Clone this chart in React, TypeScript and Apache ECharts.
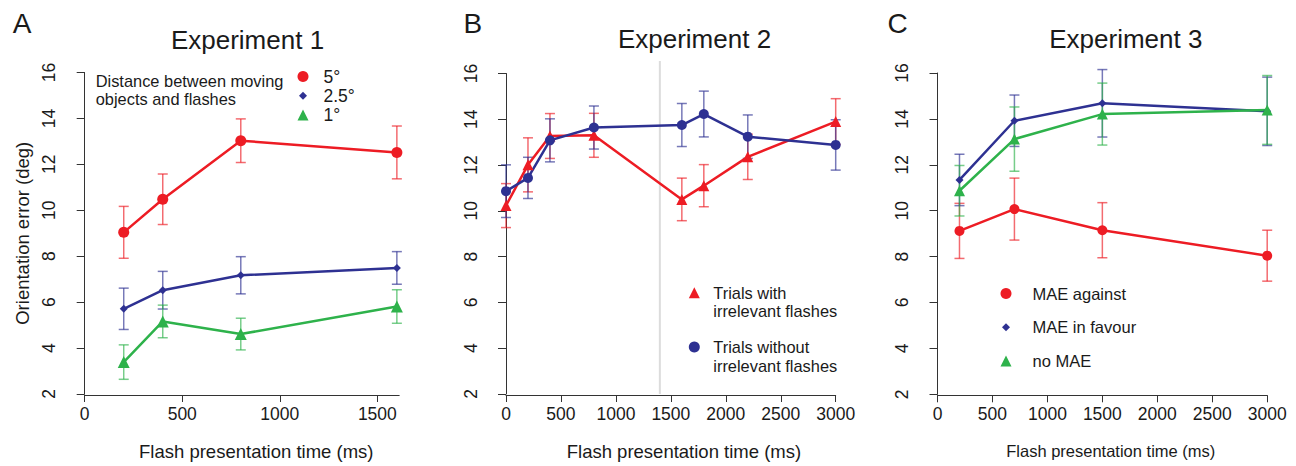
import React, { useEffect, useRef } from "react";
import * as echarts from "echarts";

const FONT = '"Liberation Sans", Arial, Helvetica, sans-serif';
const INK = "#1a1a1a";
const AXIS = "#333333";
const RED = "#ED1C24";
const BLUE = "#2E3192";
const GREEN = "#2EB24B";
const DIVIDER = "#dcdcdc";

// Experiment 1
const exp1Times = [200, 400, 800, 1600];
const exp1Dist5Mean = [9.04, 10.48, 13.03, 12.52];
const exp1Dist5Se = [1.13, 1.1, 0.95, 1.15];
const exp1Dist25Mean = [5.71, 6.52, 7.17, 7.49];
const exp1Dist25Se = [0.9, 0.82, 0.81, 0.71];
const exp1Dist1Mean = [3.39, 5.16, 4.61, 5.81];
const exp1Dist1Se = [0.75, 0.71, 0.69, 0.73];

// Experiment 2
const exp2Times = [0, 200, 400, 800, 1600, 1800, 2200, 3000];
const exp2WithMean = [10.23, 12.01, 13.27, 13.3, 10.5, 11.1, 12.36, 13.9];
const exp2WithSe = [0.96, 1.18, 0.98, 0.96, 0.93, 0.92, 0.99, 1.0];
const exp2WithoutMean = [10.86, 11.44, 13.08, 13.64, 13.75, 14.23, 13.24, 12.88];
const exp2WithoutSe = [1.15, 0.9, 0.94, 0.94, 0.94, 1.0, 0.95, 1.1];
const exp2Divider = 1400;
const exp2DividerRange = [2, 16.55];

// Experiment 3
const exp3Times = [200, 700, 1500, 3000];
const exp3AgainstMean = [9.12, 10.07, 9.15, 8.04];
const exp3AgainstSe = [1.2, 1.35, 1.2, 1.11];
const exp3FavourMean = [11.34, 13.92, 14.68, 14.33];
const exp3FavourSe = [1.12, 1.12, 1.47, 1.49];
const exp3NoneMean = [10.87, 13.12, 14.21, 14.39];
const exp3NoneSe = [1.1, 1.4, 1.35, 1.5];

// Axes
const yTicks = [2, 4, 6, 8, 10, 12, 14, 16];
const exp1XTicks = [0, 500, 1000, 1500];
const exp23XTicks = [0, 500, 1000, 1500, 2000, 2500, 3000];

const diamondIcon = "path://M0,0M11,11M5.5,1.5L9.5,5.5L5.5,9.5L1.5,5.5Z";

function alpha(hex: string, a: number) {
  const n = parseInt(hex.slice(1), 16);
  return `rgba(${(n >> 16) & 255},${(n >> 8) & 255},${n & 255},${a})`;
}

function errorBars(name: string, gi: number, xs: number[], m: number[], se: number[], color: string) {
  return {
    type: "custom",
    name,
    xAxisIndex: gi,
    yAxisIndex: gi,
    z: 2,
    silent: true,
    data: xs.map((x, i) => [x, m[i] - se[i], m[i] + se[i]]),
    renderItem: (_p: any, api: any) => {
      const x = api.value(0);
      const lo = api.coord([x, api.value(1)]);
      const hi = api.coord([x, api.value(2)]);
      const cap = 5;
      const style = { stroke: alpha(color, 0.65), lineWidth: 1.5, fill: "none" };
      return {
        type: "group",
        children: [
          { type: "line", shape: { x1: lo[0], y1: lo[1], x2: hi[0], y2: hi[1] }, style },
          { type: "line", shape: { x1: lo[0] - cap, y1: lo[1], x2: lo[0] + cap, y2: lo[1] }, style },
          { type: "line", shape: { x1: hi[0] - cap, y1: hi[1], x2: hi[0] + cap, y2: hi[1] }, style },
        ],
      };
    },
  };
}

function line(name: string, gi: number, xs: number[], m: number[], color: string, symbol: string, size: number) {
  return {
    type: "line",
    name,
    xAxisIndex: gi,
    yAxisIndex: gi,
    z: 3,
    data: xs.map((x, i) => [x, m[i]]),
    symbol,
    symbolSize: size,
    showSymbol: true,
    itemStyle: { color },
    lineStyle: { color, width: 2.5 },
    emphasis: { disabled: true },
  };
}

const plain = (v: number) => String(v);

function xAxis(gi: number, max: number, ticks: number[], shift: number, nameSize: number) {
  return {
    type: "value",
    gridIndex: gi,
    min: 0,
    max,
    offset: 1,
    axisLine: { show: true, lineStyle: { color: AXIS, width: 1 } },
    axisTick: { show: true, length: 7, customValues: ticks, lineStyle: { color: AXIS, width: 1 } },
    axisLabel: { customValues: ticks, formatter: plain, fontSize: 17.5, color: INK, fontFamily: FONT, margin: 10 },
    splitLine: { show: false },
    name: "Flash presentation time (ms)",
    nameLocation: "middle",
    nameGap: 47,
    nameTextStyle: { fontSize: nameSize, color: INK, fontFamily: FONT, padding: [0, 0, 0, shift * 2] },
  };
}

function yAxis(gi: number, withName: boolean) {
  const ax: any = {
    type: "value",
    gridIndex: gi,
    min: 2,
    max: 16,
    interval: 2,
    offset: 14.5,
    axisLine: { show: true, lineStyle: { color: AXIS, width: 1 } },
    axisTick: { show: true, length: 8, customValues: yTicks, lineStyle: { color: AXIS, width: 1 } },
    axisLabel: { customValues: yTicks, formatter: plain, rotate: 90, fontSize: 17.5, color: INK, fontFamily: FONT, margin: 12 },
    splitLine: { show: false },
  };
  if (withName) {
    ax.name = "Orientation error (deg)";
    ax.nameLocation = "middle";
    ax.nameGap = 38;
    ax.nameTextStyle = { fontSize: 18.5, color: INK, fontFamily: FONT };
  }
  return ax;
}

function label(text: string, x: number, y: number, size: number) {
  return {
    type: "text",
    x,
    y,
    silent: true,
    style: { text, fill: INK, fontSize: size, fontFamily: FONT, align: "center", verticalAlign: "middle" },
  };
}

export default function App() {
  const ref = useRef<HTMLDivElement>(null);
  useEffect(() => {
    document.body.style.margin = "0";
    if (!ref.current) return;
    const chart = echarts.init(ref.current, undefined, { renderer: "svg" });
    const legendText = (size: number, padLeft: number, padTop: number, lh: number) => ({
      fontSize: size,
      color: INK,
      fontFamily: FONT,
      lineHeight: lh,
      padding: [padTop, 0, 0, padLeft],
    });
    const option: any = {
      animation: false,
      backgroundColor: "#ffffff",
      textStyle: { fontFamily: FONT },
      grid: [
        { left: 84.7, top: 72.5, width: 314.5, height: 321.8 },
        { left: 506, top: 73.5, width: 329.7, height: 321.3 },
        { left: 937.5, top: 73, width: 329.7, height: 321.3 },
      ],
      xAxis: [
        xAxis(0, 1612, exp1XTicks, 14.3, 18.5),
        xAxis(1, 3000, exp23XTicks, 13.1, 18.5),
        xAxis(2, 3000, exp23XTicks, 8.4, 16.5),
      ],
      yAxis: [yAxis(0, true), yAxis(1, false), yAxis(2, false)],
      legend: [
        {
          orient: "vertical",
          left: 297.5,
          top: 67.5,
          padding: 0,
          itemWidth: 11,
          itemHeight: 11,
          itemGap: 1.2,
          selectedMode: false,
          textStyle: legendText(17.5, 10, 0, 11),
          data: [
            { name: "5°", icon: "circle" },
            { name: "2.5°", icon: diamondIcon },
            { name: "1°", icon: "triangle" },
          ],
        },
        {
          orient: "vertical",
          left: 688.8,
          top: 264.95,
          padding: 0,
          itemWidth: 11,
          itemHeight: 11,
          selectedMode: false,
          formatter: () => "\nTrials with\nirrelevant flashes",
          textStyle: legendText(16.4, 8.5, 0, 18.5),
          data: [{ name: "Trials with irrelevant flashes", icon: "triangle" }],
        },
        {
          orient: "vertical",
          left: 688.8,
          top: 319.25,
          padding: 0,
          itemWidth: 11,
          itemHeight: 11,
          selectedMode: false,
          formatter: () => "\nTrials without\nirrelevant flashes",
          textStyle: legendText(16.4, 8.5, 0, 18.5),
          data: [{ name: "Trials without irrelevant flashes", icon: "circle" }],
        },
        {
          orient: "vertical",
          left: 1000.5,
          top: 285,
          padding: 0,
          itemWidth: 11,
          itemHeight: 11,
          itemGap: 16.8,
          selectedMode: false,
          textStyle: legendText(16.5, 16, 6, 5),
          data: [
            { name: "MAE against", icon: "circle" },
            { name: "MAE in favour", icon: diamondIcon },
            { name: "no MAE", icon: "triangle" },
          ],
        },
      ],
      graphic: [
        label("A", 22, 23.5, 28),
        label("B", 472.8, 23, 28),
        label("C", 897.5, 23, 28),
        label("Experiment 1", 247.5, 39.5, 26),
        label("Experiment 2", 694.5, 38.5, 26),
        label("Experiment 3", 1125.8, 38.5, 26),
        {
          type: "text",
          left: 95.7,
          top: 71.7,
          silent: true,
          style: {
            text: "Distance between moving\nobjects and flashes",
            fill: INK,
            fontSize: 16.4,
            fontFamily: FONT,
            lineHeight: 18,
          },
        },
      ],
      series: [
        // divider in experiment 2
        {
          type: "custom",
          name: "divider",
          xAxisIndex: 1,
          yAxisIndex: 1,
          z: 1,
          silent: true,
          data: [[exp2Divider, exp2DividerRange[0], exp2DividerRange[1]]],
          renderItem: (_p: any, api: any) => {
            const a = api.coord([api.value(0), api.value(1)]);
            const b = api.coord([api.value(0), api.value(2)]);
            return {
              type: "line",
              shape: { x1: a[0], y1: a[1], x2: b[0], y2: b[1] },
              style: { stroke: DIVIDER, lineWidth: 2 },
            };
          },
        },
        errorBars("e1a", 0, exp1Times, exp1Dist5Mean, exp1Dist5Se, RED),
        errorBars("e1b", 0, exp1Times, exp1Dist25Mean, exp1Dist25Se, BLUE),
        errorBars("e1c", 0, exp1Times, exp1Dist1Mean, exp1Dist1Se, GREEN),
        line("5°", 0, exp1Times, exp1Dist5Mean, RED, "circle", 11),
        line("2.5°", 0, exp1Times, exp1Dist25Mean, BLUE, "diamond", 8),
        line("1°", 0, exp1Times, exp1Dist1Mean, GREEN, "triangle", 12),
        errorBars("e2a", 1, exp2Times, exp2WithMean, exp2WithSe, RED),
        errorBars("e2b", 1, exp2Times, exp2WithoutMean, exp2WithoutSe, BLUE),
        line("Trials with irrelevant flashes", 1, exp2Times, exp2WithMean, RED, "triangle", 11),
        line("Trials without irrelevant flashes", 1, exp2Times, exp2WithoutMean, BLUE, "circle", 10),
        errorBars("e3a", 2, exp3Times, exp3AgainstMean, exp3AgainstSe, RED),
        errorBars("e3b", 2, exp3Times, exp3FavourMean, exp3FavourSe, BLUE),
        errorBars("e3c", 2, exp3Times, exp3NoneMean, exp3NoneSe, GREEN),
        line("MAE against", 2, exp3Times, exp3AgainstMean, RED, "circle", 10),
        line("MAE in favour", 2, exp3Times, exp3FavourMean, BLUE, "diamond", 8),
        line("no MAE", 2, exp3Times, exp3NoneMean, GREEN, "triangle", 11),
      ],
    };
    chart.setOption(option);
    return () => chart.dispose();
  }, []);
  return <div ref={ref} style={{ width: 1296, height: 466 }} />;
}
